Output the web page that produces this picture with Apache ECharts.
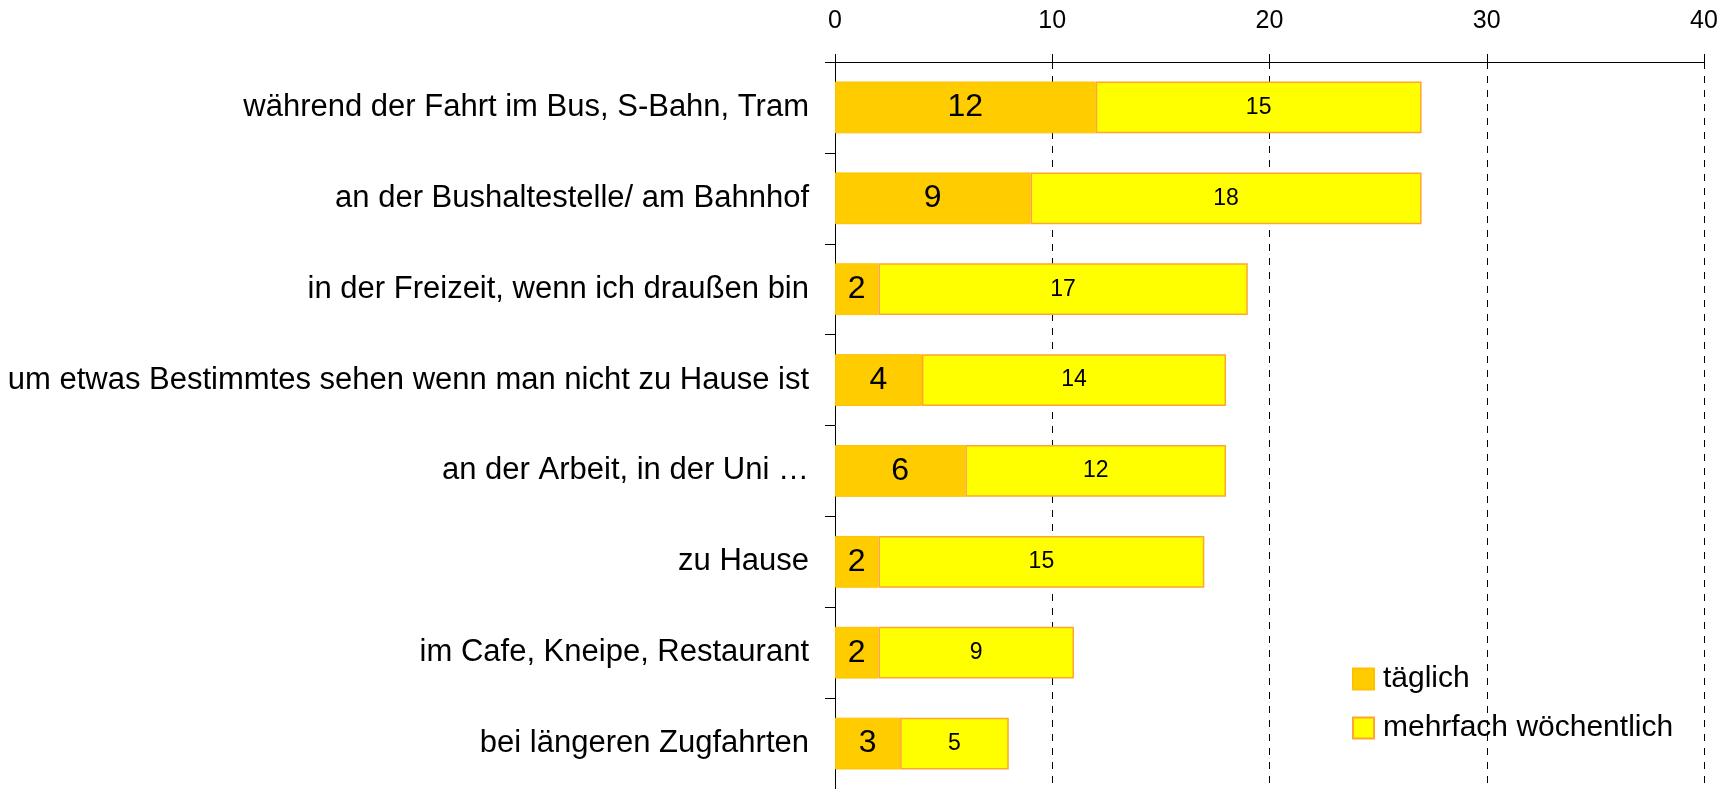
<!DOCTYPE html>
<html>
<head>
<meta charset="utf-8">
<script src="https://cdn.jsdelivr.net/npm/echarts@6/dist/echarts.min.js"></script>
<style>
  html, body { margin: 0; padding: 0; background: #fff; }
  #chart { width: 1736px; height: 789px; }
</style>
</head>
<body>
<div id="chart"></div>
<script>
// Daten
var kategorien = [
  'während der Fahrt im Bus, S-Bahn, Tram',
  'an der Bushaltestelle/ am Bahnhof',
  'in der Freizeit, wenn ich draußen bin',
  'um etwas Bestimmtes sehen wenn man nicht zu Hause ist',
  'an der Arbeit, in der Uni …',
  'zu Hause',
  'im Cafe, Kneipe, Restaurant',
  'bei längeren Zugfahrten'
];
var taeglich = [12, 9, 2, 4, 6, 2, 2, 3];
var mehrfach = [15, 18, 17, 14, 12, 15, 9, 5];
var xTicks = [0, 10, 20, 30, 40];

var schrift = 'Liberation Sans, Arial, sans-serif';

var myChart = echarts.init(document.getElementById('chart'));

var option = {
  animation: false,
  grid: { left: 835, right: 32, top: 62, bottom: 0 },
  legend: {
    orient: 'vertical',
    left: 1347,
    top: 659,
    icon: 'rect',
    itemWidth: 21,
    itemHeight: 21,
    itemGap: 19,
    textStyle: { fontFamily: schrift, fontSize: 30, color: '#000', padding: [0, 0, 0, 4] },
    data: ['täglich', 'mehrfach wöchentlich']
  },
  xAxis: {
    type: 'value',
    position: 'top',
    min: xTicks[0],
    max: xTicks[xTicks.length - 1],
    interval: 10,
    axisLine: { show: true, lineStyle: { color: '#000', width: 1 } },
    axisTick: { show: true, length: 8, lineStyle: { color: '#000' } },
    axisLabel: { fontFamily: schrift, fontSize: 25, color: '#000', margin: 28 },
    splitLine: { show: true, lineStyle: { color: '#000', type: [7, 7], width: 1 } }
  },
  yAxis: {
    type: 'category',
    inverse: true,
    data: kategorien,
    axisLine: { show: true, lineStyle: { color: '#000', width: 1 } },
    axisTick: { show: true, length: 10, lineStyle: { color: '#000' } },
    axisLabel: { fontFamily: schrift, fontSize: 31, color: '#000', margin: 26 }
  },
  series: [
    {
      name: 'täglich',
      type: 'bar',
      stack: 'gesamt',
      barCategoryGap: '43%',
      data: taeglich,
      itemStyle: { color: '#ffcc00', borderColor: '#ffc000', borderWidth: 1 },
      label: { show: true, position: 'inside', fontFamily: schrift, fontSize: 32, color: '#000' }
    },
    {
      name: 'mehrfach wöchentlich',
      type: 'bar',
      stack: 'gesamt',
      barCategoryGap: '43%',
      data: mehrfach,
      itemStyle: { color: '#ffff00', borderColor: '#ffa530', borderWidth: 1.5 },
      label: { show: true, position: 'inside', fontFamily: schrift, fontSize: 23, color: '#000' }
    }
  ]
};

myChart.setOption(option);
</script>
</body>
</html>
